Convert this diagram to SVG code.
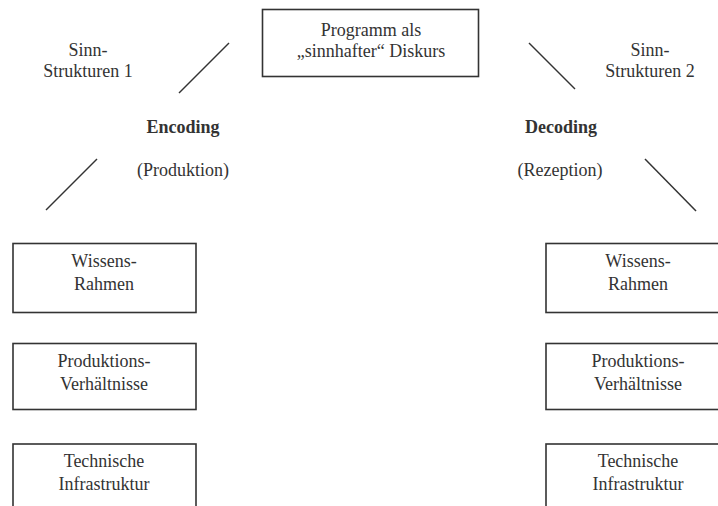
<svg xmlns="http://www.w3.org/2000/svg" width="718" height="506" viewBox="0 0 718 506">
<style>
.box{fill:#fff;stroke:#333;stroke-width:1.6}
.t{font-family:'Liberation Serif','Times New Roman','DejaVu Serif',serif;font-size:18px;fill:#333;text-anchor:middle}
.b{font-weight:bold}
.ln{stroke:#333;stroke-width:1.5;fill:none}
</style>
<rect width="718" height="506" fill="#fff"/>
<g id="programm">
<rect class="box" x="262.5" y="9.5" width="216" height="67"/>
<text class="t" x="371" y="36">Programm als</text>
<text class="t" x="371" y="57">„sinnhafter“ Diskurs</text>
</g>
<g id="sinn1">
<text class="t" x="88" y="56">Sinn-</text>
<text class="t" x="88" y="77">Strukturen 1</text>
</g>
<g id="sinn2">
<text class="t" x="650" y="56">Sinn-</text>
<text class="t" x="650" y="77">Strukturen 2</text>
</g>
<g id="encoding">
<text class="t b" x="183" y="133">Encoding</text>
<text class="t" x="183" y="176">(Produktion)</text>
</g>
<g id="decoding">
<text class="t b" x="561" y="133">Decoding</text>
<text class="t" x="560" y="176">(Rezeption)</text>
</g>
<g id="wissen-l">
<rect class="box" x="13" y="243.5" width="183" height="69"/>
<text class="t" x="104" y="267">Wissens-</text>
<text class="t" x="104" y="290">Rahmen</text>
</g>
<g id="prod-l">
<rect class="box" x="13" y="343.5" width="183" height="66"/>
<text class="t" x="104" y="367">Produktions-</text>
<text class="t" x="104" y="390">Verhältnisse</text>
</g>
<g id="tech-l">
<rect class="box" x="13" y="444" width="183" height="80"/>
<text class="t" x="104" y="467">Technische</text>
<text class="t" x="104" y="490">Infrastruktur</text>
</g>
<g id="wissen-r">
<rect class="box" x="546" y="243.5" width="183" height="69"/>
<text class="t" x="638" y="267">Wissens-</text>
<text class="t" x="638" y="290">Rahmen</text>
</g>
<g id="prod-r">
<rect class="box" x="546" y="343.5" width="183" height="66"/>
<text class="t" x="638" y="367">Produktions-</text>
<text class="t" x="638" y="390">Verhältnisse</text>
</g>
<g id="tech-r">
<rect class="box" x="546" y="444" width="183" height="80"/>
<text class="t" x="638" y="467">Technische</text>
<text class="t" x="638" y="490">Infrastruktur</text>
</g>
<g id="connectors">
<line class="ln" x1="229" y1="43" x2="179" y2="93"/>
<line class="ln" x1="97" y1="159" x2="46" y2="210"/>
<line class="ln" x1="529" y1="43" x2="575" y2="89"/>
<line class="ln" x1="645" y1="159" x2="696" y2="211"/>
</g>
</svg>
